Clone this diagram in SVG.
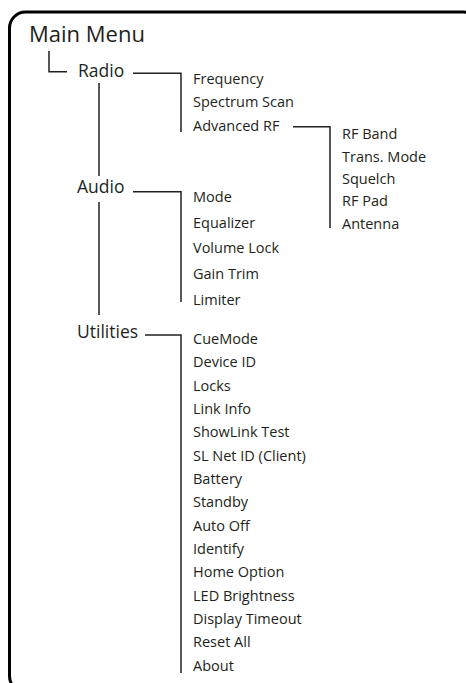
<svg xmlns="http://www.w3.org/2000/svg" width="466" height="683" viewBox="0 0 466 683">
<style>
text{font-family:"Open Sans","Noto Sans","Liberation Sans",sans-serif;fill:#231f20}
.t0{font-size:22px}
.t1{font-size:17.5px}
.t2{font-size:14.5px}
.c{fill:none;stroke:#231f20;stroke-width:1.5}
</style>
<rect x="9.5" y="12" width="470" height="680" rx="16" fill="#fff" stroke="#000" stroke-width="3"/>
<g id="connectors">
<path class="c" d="M49 51V71.7H67"/>
<path class="c" d="M99 83V176M99 202V315"/>
<path class="c" d="M133 73.3H181V132"/>
<path class="c" d="M293 126.7H330V228"/>
<path class="c" d="M133 191.7H181V302"/>
<path class="c" d="M145 335H181V673"/>
</g>
<g id="main-menu"><text class="t0" x="29" y="42">Main Menu</text></g>
<g id="radio"><text class="t1" x="78" y="77">Radio</text></g>
<g id="audio"><text class="t1" x="77" y="193">Audio</text></g>
<g id="utilities"><text class="t1" x="77" y="338">Utilities</text></g>
<g id="radio-items">
<text class="t2" x="193" y="84">Frequency</text>
<text class="t2" x="193" y="107.4">Spectrum Scan</text>
<text class="t2" x="193" y="130.8">Advanced RF</text>
</g>
<g id="rf-items">
<text class="t2" x="342" y="139.3">RF Band</text>
<text class="t2" x="342" y="161.6">Trans. Mode</text>
<text class="t2" x="342" y="183.9">Squelch</text>
<text class="t2" x="342" y="206.2">RF Pad</text>
<text class="t2" x="342" y="228.5">Antenna</text>
</g>
<g id="audio-items">
<text class="t2" x="193" y="201.7">Mode</text>
<text class="t2" x="193" y="227.5">Equalizer</text>
<text class="t2" x="193" y="253.3">Volume Lock</text>
<text class="t2" x="193" y="279.1">Gain Trim</text>
<text class="t2" x="193" y="304.9">Limiter</text>
</g>
<g id="utilities-items">
<text class="t2" x="193" y="344">CueMode</text>
<text class="t2" x="193" y="367.3">Device ID</text>
<text class="t2" x="193" y="390.6">Locks</text>
<text class="t2" x="193" y="414">Link Info</text>
<text class="t2" x="193" y="437.3">ShowLink Test</text>
<text class="t2" x="193" y="460.6">SL Net ID (Client)</text>
<text class="t2" x="193" y="484">Battery</text>
<text class="t2" x="193" y="507.3">Standby</text>
<text class="t2" x="193" y="530.6">Auto Off</text>
<text class="t2" x="193" y="554">Identify</text>
<text class="t2" x="193" y="577.3">Home Option</text>
<text class="t2" x="193" y="600.6">LED Brightness</text>
<text class="t2" x="193" y="624">Display Timeout</text>
<text class="t2" x="193" y="647.3">Reset All</text>
<text class="t2" x="193" y="670.6">About</text>
</g>
</svg>
